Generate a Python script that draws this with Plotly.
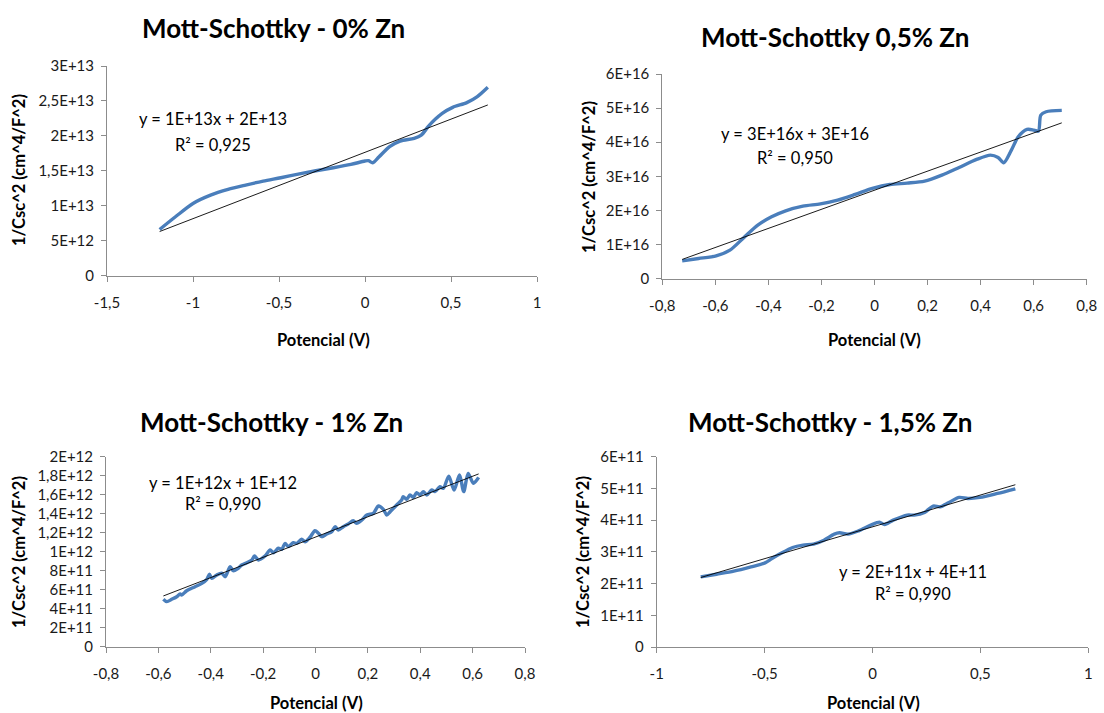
import plotly.graph_objects as go

# ---- Data: 1/Csc^2 versus potential for each Zn doping level ----
# 0% Zn
pot_0 = [-1.194, -1.102, -1.0, -0.898, -0.796, -0.694, -0.592, -0.49, -0.388, -0.286,
         -0.184, -0.082, 0.0, 0.02, 0.045, 0.082, 0.143, 0.204, 0.286, 0.327,
         0.367, 0.408, 0.449, 0.51, 0.592, 0.653, 0.714]
csc_0 = [6.59e12, 8.41e12, 1.032e13, 1.151e13, 1.233e13, 1.295e13, 1.352e13, 1.400e13, 1.452e13, 1.500e13,
         1.543e13, 1.591e13, 1.639e13, 1.644e13, 1.615e13, 1.700e13, 1.844e13, 1.925e13, 1.964e13, 2.010e13,
         2.131e13, 2.236e13, 2.322e13, 2.408e13, 2.475e13, 2.561e13, 2.695e13]

# 0,5% Zn
pot_05 = [-0.725, -0.663, -0.597, -0.545, -0.492, -0.44, -0.388, -0.335, -0.27, -0.204,
          -0.139, -0.073, -0.008, 0.058, 0.123, 0.189, 0.254, 0.319, 0.385, 0.437,
          0.466, 0.487, 0.516, 0.542, 0.575, 0.601, 0.618, 0.627, 0.647, 0.706]
csc_05 = [5.19e15, 5.87e15, 6.65e15, 8.32e15, 1.204e16, 1.566e16, 1.81e16, 1.986e16, 2.123e16, 2.19e16,
          2.30e16, 2.466e16, 2.642e16, 2.759e16, 2.798e16, 2.857e16, 3.033e16, 3.258e16, 3.493e16, 3.62e16,
          3.552e16, 3.395e16, 3.767e16, 4.159e16, 4.374e16, 4.354e16, 4.325e16, 4.795e16, 4.892e16, 4.932e16]

# 1% Zn
pot_1 = [-0.581, -0.568, -0.549, -0.530, -0.517, -0.511, -0.492, -0.460, -0.434, -0.415,
         -0.405, -0.396, -0.377, -0.358, -0.345, -0.326, -0.314, -0.295, -0.282, -0.262,
         -0.243, -0.233, -0.218, -0.193, -0.173, -0.161, -0.142, -0.129, -0.116, -0.104,
         -0.085, -0.072, -0.053, -0.040, -0.021, -0.002, 0.011, 0.024, 0.043, 0.062,
         0.075, 0.087, 0.106, 0.125, 0.144, 0.157, 0.177, 0.196, 0.221, 0.240,
         0.259, 0.272, 0.285, 0.310, 0.329, 0.335, 0.348, 0.361, 0.374, 0.386,
         0.399, 0.412, 0.425, 0.444, 0.456, 0.475, 0.488, 0.509, 0.529, 0.550,
         0.566, 0.583, 0.603, 0.623]
csc_1 = [4.99e11, 4.74e11, 4.99e11, 5.26e11, 5.55e11, 5.44e11, 5.89e11, 6.32e11, 6.67e11, 7.09e11,
         7.62e11, 7.20e11, 7.55e11, 7.73e11, 7.37e11, 8.42e11, 8.00e11, 8.25e11, 8.60e11, 8.84e11,
         9.13e11, 9.55e11, 9.13e11, 9.55e11, 1.018e12, 9.89e11, 1.036e12, 1.025e12, 1.088e12, 1.053e12,
         1.095e12, 1.088e12, 1.131e12, 1.105e12, 1.152e12, 1.221e12, 1.194e12, 1.158e12, 1.186e12, 1.211e12,
         1.263e12, 1.228e12, 1.263e12, 1.292e12, 1.326e12, 1.299e12, 1.334e12, 1.386e12, 1.404e12, 1.481e12,
         1.446e12, 1.386e12, 1.421e12, 1.492e12, 1.544e12, 1.579e12, 1.552e12, 1.597e12, 1.573e12, 1.621e12,
         1.597e12, 1.632e12, 1.597e12, 1.649e12, 1.632e12, 1.684e12, 1.667e12, 1.796e12, 1.649e12, 1.807e12,
         1.632e12, 1.825e12, 1.719e12, 1.782e12]

# 1,5% Zn
pot_15 = [-0.796, -0.723, -0.643, -0.563, -0.498, -0.466, -0.426, -0.37, -0.322, -0.273,
          -0.225, -0.177, -0.153, -0.113, -0.064, -0.008, 0.032, 0.056, 0.096, 0.161,
          0.193, 0.241, 0.281, 0.313, 0.354, 0.402, 0.442, 0.498, 0.579, 0.662]
csc_15 = [2.21e11, 2.295e11, 2.39e11, 2.526e11, 2.653e11, 2.79e11, 2.947e11, 3.137e11, 3.21e11, 3.242e11,
          3.368e11, 3.558e11, 3.6e11, 3.558e11, 3.663e11, 3.842e11, 3.937e11, 3.863e11, 4.0e11, 4.158e11,
          4.158e11, 4.242e11, 4.442e11, 4.421e11, 4.558e11, 4.716e11, 4.684e11, 4.716e11, 4.842e11, 4.989e11]

# Linear trendline coefficients (full precision; labels show them rounded)
trend_slope = [9.5e12, 2.80e16, 1.067e12, 2.007e11]
trend_intercept = [1.764e13, 2.59e16, 1.154e12, 3.788e11]

# Titles, fit labels and tick labels
titles = ["Mott-Schottky - 0% Zn", "Mott-Schottky 0,5% Zn",
          "Mott-Schottky - 1% Zn", "Mott-Schottky - 1,5% Zn"]
fit_eqs = ["y = 1E+13x + 2E+13", "y = 3E+16x + 3E+16",
           "y = 1E+12x + 1E+12", "y = 2E+11x + 4E+11"]
fit_r2 = ["R² = 0,925", "R² = 0,950", "R² = 0,990", "R² = 0,990"]

xticks_0 = [-1.5, -1, -0.5, 0, 0.5, 1]
xlabels_0 = ["-1,5", "-1", "-0,5", "0", "0,5", "1"]
yticks_0 = [0, 5e12, 1e13, 1.5e13, 2e13, 2.5e13, 3e13]
ylabels_0 = ["0", "5E+12", "1E+13", "1,5E+13", "2E+13", "2,5E+13", "3E+13"]

xticks_08 = [-0.8, -0.6, -0.4, -0.2, 0, 0.2, 0.4, 0.6, 0.8]
xlabels_08 = ["-0,8", "-0,6", "-0,4", "-0,2", "0", "0,2", "0,4", "0,6", "0,8"]
yticks_05 = [0, 1e16, 2e16, 3e16, 4e16, 5e16, 6e16]
ylabels_05 = ["0", "1E+16", "2E+16", "3E+16", "4E+16", "5E+16", "6E+16"]

yticks_1 = [0, 2e11, 4e11, 6e11, 8e11, 1e12, 1.2e12, 1.4e12, 1.6e12, 1.8e12, 2e12]
ylabels_1 = ["0", "2E+11", "4E+11", "6E+11", "8E+11", "1E+12", "1,2E+12",
             "1,4E+12", "1,6E+12", "1,8E+12", "2E+12"]

xticks_15 = [-1, -0.5, 0, 0.5, 1]
xlabels_15 = ["-1", "-0,5", "0", "0,5", "1"]
yticks_15 = [0, 1e11, 2e11, 3e11, 4e11, 5e11, 6e11]
ylabels_15 = ["0", "1E+11", "2E+11", "3E+11", "4E+11", "5E+11", "6E+11"]

# ---- Page geometry (pixels) ----
W, H = 1104, 713
BLUE = "#4A7EBB"
AXIS = "#8C8C8C"
FONT = "Lato"


def fx(p):
    return p / W


def fy(p):
    return 1 - p / H


panels = [
    dict(x=pot_0, y=csc_0, xr=[-1.5, 1], yr=[0, 3e13], xt=(xticks_0, xlabels_0), yt=(yticks_0, ylabels_0),
         box=(107, 537, 66, 275.5), title=(273, 28), eq=(213, 119), r2=(213, 145),
         xtitle=(323, 340), ytitle=(19, 170)),
    dict(x=pot_05, y=csc_05, xr=[-0.8, 0.8], yr=[0, 6e16], xt=(xticks_08, xlabels_08), yt=(yticks_05, ylabels_05),
         box=(662.3, 1086.7, 74, 278.5), title=(835, 37), eq=(795, 134), r2=(795, 158),
         xtitle=(874, 340), ytitle=(589, 177)),
    dict(x=pot_1, y=csc_1, xr=[-0.8, 0.8], yr=[0, 2e12], xt=(xticks_08, xlabels_08), yt=(yticks_1, ylabels_1),
         box=(106, 525, 456.7, 646.7), title=(271, 422), eq=(223, 483), r2=(223, 504),
         xtitle=(316, 703), ytitle=(19, 552)),
    dict(x=pot_15, y=csc_15, xr=[-1, 1], yr=[0, 6e11], xt=(xticks_15, xlabels_15), yt=(yticks_15, ylabels_15),
         box=(656.7, 1088.3, 456.7, 647), title=(830, 422), eq=(913, 572), r2=(913, 594),
         xtitle=(873, 703), ytitle=(583, 552)),
]

fig = go.Figure()
annotations = []
layout_axes = {}


def note(text, pos, size, bold=False, angle=0):
    return dict(text=f"<b>{text}</b>" if bold else text, x=fx(pos[0]), y=fy(pos[1]),
                xref="paper", yref="paper", xanchor="center", yanchor="middle",
                showarrow=False, textangle=angle,
                font=dict(family=FONT, size=size, color="black"))


for i, p in enumerate(panels, start=1):
    xa = "x" if i == 1 else f"x{i}"
    ya = "y" if i == 1 else f"y{i}"

    # measured curve (smoothed line)
    fig.add_trace(go.Scatter(x=p["x"], y=p["y"], mode="lines", xaxis=xa, yaxis=ya,
                             line=dict(color=BLUE, width=3.4, shape="spline", smoothing=0.8),
                             hoverinfo="skip"))
    # linear trendline over the measured potential span
    m, b = trend_slope[i - 1], trend_intercept[i - 1]
    xs = [min(p["x"]), max(p["x"])]
    fig.add_trace(go.Scatter(x=xs, y=[m * v + b for v in xs], mode="lines",
                             xaxis=xa, yaxis=ya, line=dict(color="black", width=0.9),
                             hoverinfo="skip"))

    x0, x1, yt, yb = p["box"]
    common = dict(showline=True, linecolor=AXIS, linewidth=1, ticks="outside", ticklen=5,
                  tickcolor=AXIS, tickwidth=1, showgrid=False, zeroline=False, automargin=False,
                  tickfont=dict(family=FONT, size=15, color="#1a1a1a"))
    layout_axes["xaxis" if i == 1 else f"xaxis{i}"] = dict(
        common, domain=[fx(x0), fx(x1)], range=p["xr"], anchor=ya,
        tickmode="array", tickvals=p["xt"][0], ticktext=p["xt"][1], ticklabelstandoff=8)
    layout_axes["yaxis" if i == 1 else f"yaxis{i}"] = dict(
        common, domain=[fy(yb), fy(yt)], range=p["yr"], anchor=xa,
        tickmode="array", tickvals=p["yt"][0], ticktext=p["yt"][1], ticklabelstandoff=4)

    annotations.append(note(titles[i - 1], p["title"], 26, bold=True))
    annotations.append(note(fit_eqs[i - 1], p["eq"], 16.5))
    annotations.append(note(fit_r2[i - 1], p["r2"], 16.5))
    annotations.append(note("Potencial (V)", p["xtitle"], 16.5, bold=True))
    annotations.append(note("1/Csc^2 (cm^4/F^2)", p["ytitle"], 16.5, bold=True, angle=-90))

fig.update_layout(
    width=W, height=H, template="none",
    margin=dict(l=0, r=0, t=0, b=0),
    paper_bgcolor="white", plot_bgcolor="white",
    showlegend=False, annotations=annotations, **layout_axes)

fig.write_html("out.html")
